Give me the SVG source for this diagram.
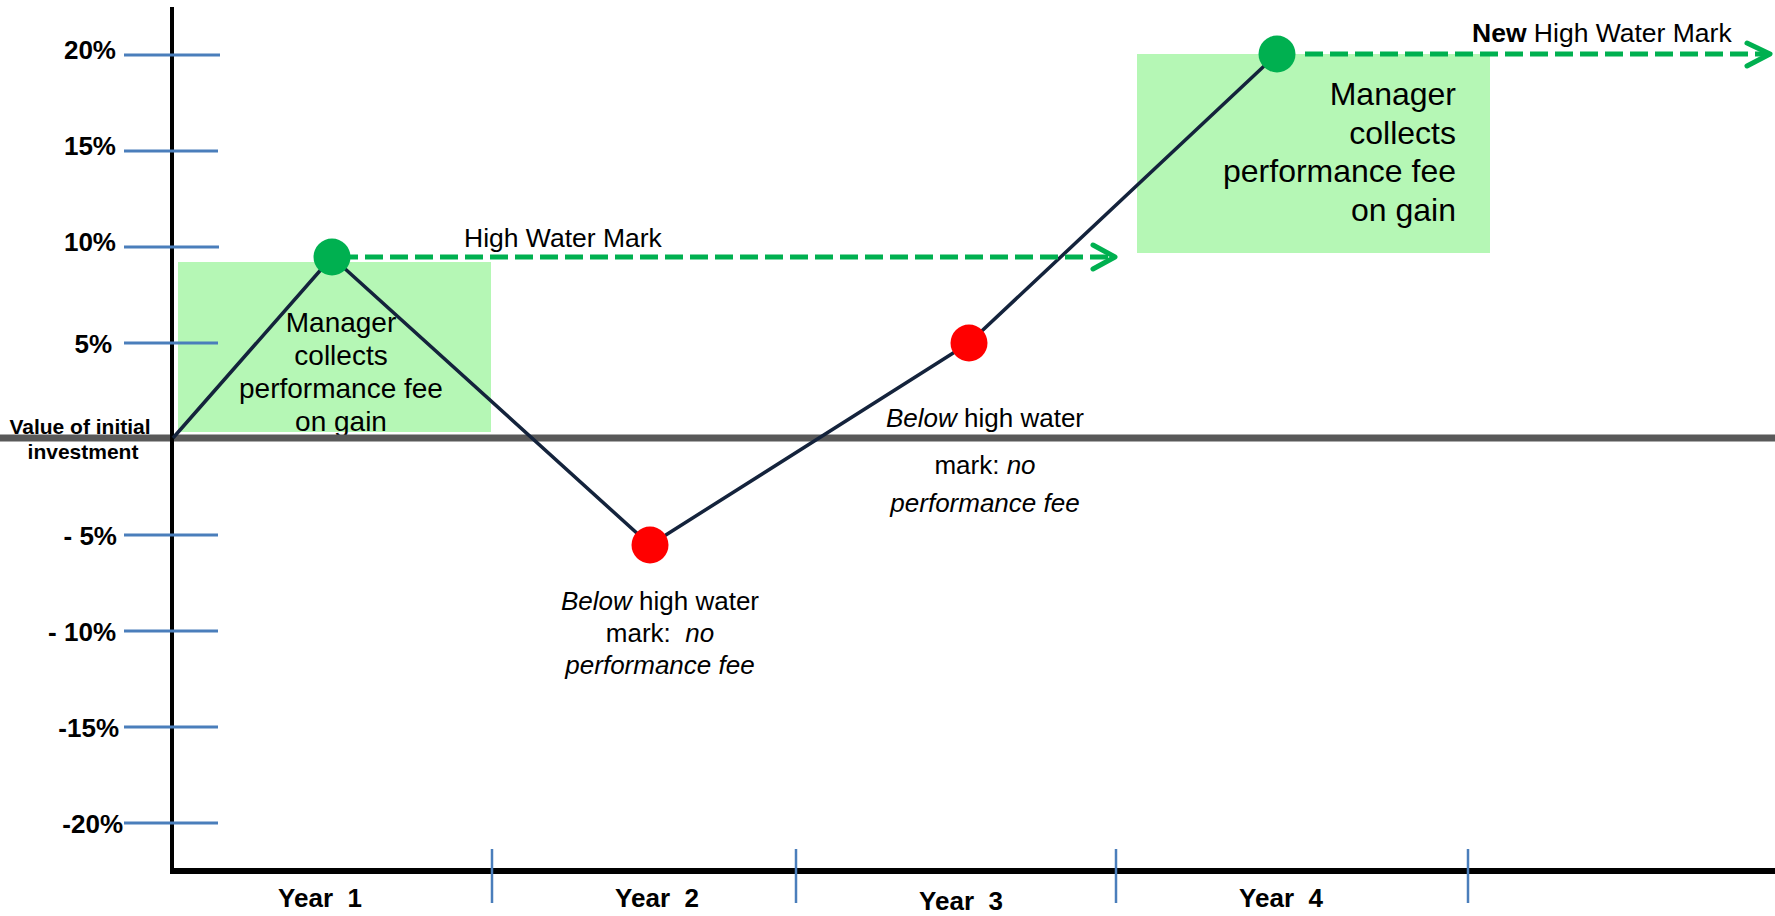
<svg xmlns="http://www.w3.org/2000/svg" width="1775" height="916" viewBox="0 0 1775 916">
<style>
.lbl{font-family:"Liberation Sans",Arial,sans-serif;font-weight:bold;font-size:26px;fill:#000}
.yl{text-anchor:end}
.note{font-family:"Liberation Sans",Arial,sans-serif;font-size:26px;fill:#000}
.tick{stroke:#4A7EBB;stroke-width:3}
.sep{stroke:#4A7EBB;stroke-width:2.5}
.hwm{stroke:#00B050;stroke-width:5;stroke-dasharray:18 7;fill:none}
.head{stroke:#00B050;stroke-width:5;fill:none;stroke-linecap:round;stroke-linejoin:round}
.box{fill:#B5F7B5}
</style>
<rect width="1775" height="916" fill="#fff"/>
<g id="fee-box-1">
<rect class="box" x="178" y="262" width="313" height="170"/>
<text class="note" style="font-size:28px" text-anchor="middle"><tspan x="341" y="332">Manager</tspan><tspan x="341" y="365">collects</tspan><tspan x="341" y="398">performance fee</tspan><tspan x="341" y="431">on gain</tspan></text>
</g>
<g id="fee-box-2">
<rect class="box" x="1137" y="54" width="353" height="199"/>
<text class="note" style="font-size:32px" text-anchor="end"><tspan x="1456" y="105">Manager</tspan><tspan x="1456" y="144">collects</tspan><tspan x="1456" y="182">performance fee</tspan><tspan x="1456" y="221">on gain</tspan></text>
</g>
<g id="axes">
<text class="lbl" style="font-size:21px" text-anchor="middle"><tspan x="80" y="434">Value of initial</tspan><tspan x="83" y="459">investment</tspan></text>
<line x1="0" y1="438" x2="1775" y2="438" stroke="#595959" stroke-width="7"/>
<line x1="172" y1="7" x2="172" y2="874" stroke="#000" stroke-width="4"/>
<line x1="170" y1="871" x2="1775" y2="871" stroke="#000" stroke-width="6"/>
<line class="tick" x1="124" y1="55" x2="220" y2="55"/>
<line class="tick" x1="124" y1="151" x2="218" y2="151"/>
<line class="tick" x1="124" y1="247" x2="219" y2="247"/>
<line class="tick" x1="124" y1="343" x2="218" y2="343"/>
<line class="tick" x1="124" y1="535" x2="218" y2="535"/>
<line class="tick" x1="124" y1="631" x2="218" y2="631"/>
<line class="tick" x1="124" y1="727" x2="218" y2="727"/>
<line class="tick" x1="124" y1="823" x2="218" y2="823"/>
<line class="sep" x1="492" y1="849" x2="492" y2="903"/>
<line class="sep" x1="796" y1="849" x2="796" y2="903"/>
<line class="sep" x1="1116" y1="849" x2="1116" y2="903"/>
<line class="sep" x1="1468" y1="849" x2="1468" y2="903"/>
<text class="lbl yl" x="116" y="59">20%</text>
<text class="lbl yl" x="116" y="155">15%</text>
<text class="lbl yl" x="116" y="251">10%</text>
<text class="lbl yl" x="112" y="353">5%</text>
<text class="lbl yl" x="117" y="545">- 5%</text>
<text class="lbl yl" x="116" y="641">- 10%</text>
<text class="lbl yl" x="119" y="737">-15%</text>
<text class="lbl yl" x="123" y="833">-20%</text>
<text class="lbl" text-anchor="middle" x="320" y="907">Year&#160;&#160;1</text>
<text class="lbl" text-anchor="middle" x="657" y="907">Year&#160;&#160;2</text>
<text class="lbl" text-anchor="middle" x="961" y="910">Year&#160;&#160;3</text>
<text class="lbl" text-anchor="middle" x="1281" y="907">Year&#160;&#160;4</text>
</g>
<g id="connectors">
<polyline points="173,438 332,257 650,545 969,343 1277,54" fill="none" stroke="#14233C" stroke-width="3.5" stroke-linejoin="round"/>
<line class="hwm" x1="340" y1="257" x2="1112" y2="257"/>
<polyline class="head" points="1093,245 1115,257 1093,269"/>
<line class="hwm" x1="1305" y1="54" x2="1767" y2="54"/>
<polyline class="head" points="1747,43 1770,54 1747,66"/>
</g>
<g id="point-year1">
<circle cx="332" cy="257" r="18.5" fill="#00B050"/>
</g>
<g id="point-year2">
<circle cx="650" cy="545" r="18.5" fill="#FF0000"/>
<text class="note" text-anchor="middle"><tspan x="660" y="610"><tspan font-style="italic">Below</tspan> high water</tspan><tspan x="660" y="642">mark:&#160;&#160;<tspan font-style="italic">no</tspan></tspan><tspan x="660" y="674" font-style="italic">performance fee</tspan></text>
</g>
<g id="point-year3">
<circle cx="969" cy="343" r="18.5" fill="#FF0000"/>
<text class="note" text-anchor="middle"><tspan x="985" y="427"><tspan font-style="italic">Below</tspan> high water</tspan><tspan x="985" y="474">mark: <tspan font-style="italic">no</tspan></tspan><tspan x="985" y="512" font-style="italic">performance fee</tspan></text>
</g>
<g id="point-year4">
<circle cx="1277" cy="54" r="18.5" fill="#00B050"/>
</g>
<g id="labels">
<text class="note" style="font-size:26.5px" x="464" y="247">High Water Mark</text>
<text class="note" style="font-size:26.5px" x="1472" y="42"><tspan font-weight="bold">New</tspan> High Water Mark</text>
</g>
</svg>
